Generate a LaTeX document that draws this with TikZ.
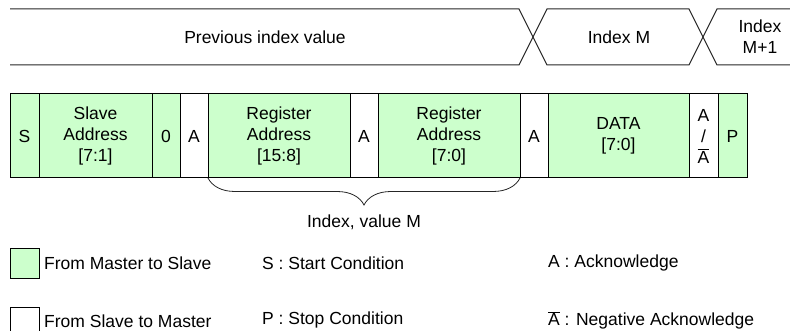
\documentclass[tikz,border=0pt]{standalone}
\usepackage{fontspec}
\setmainfont{Liberation Sans}
\usetikzlibrary{positioning,decorations.pathreplacing}
\definecolor{masterGreen}{HTML}{CCFFCC}
\newcommand{\nack}{$\overline{\hbox{A}}$}

\tikzset{
  txt/.style={font=\fontsize{17.5}{21}\selectfont},
  cell/.style={txt, draw=black, line width=1pt, minimum height=84pt,
    inner sep=0pt, outer sep=0pt, align=center},
  master/.style={cell, fill=masterGreen},
  slave/.style={cell, fill=white},
  bus/.style={draw=black!85, line width=1pt},
  lbl/.style={txt, inner sep=0pt, align=center},
}

\begin{document}
\begin{tikzpicture}[x=1pt, y=-1pt]
  \useasboundingbox (0,0) rectangle (790,331);

  % index value bus
  \draw[bus] (10,9) -- (519,9) -- (547,65) -- (689,65) -- (717,9) -- (790,9);
  \draw[bus] (10,65) -- (519,65) -- (547,9) -- (689,9) -- (717,65) -- (790,65);
  \node[lbl] (prevIdx) at (265,37) {Previous index value};
  \node[lbl] (idxM) at (619,37) {Index M};
  \node[lbl] (idxNext) at (760,37) {Index\\M+1};

  % frame
  \node[master, minimum width=29pt, anchor=north west] (s) at (10,94) {S};
  \node[master, minimum width=113pt, right=0pt of s] (slaveAddr) {Slave\\Address\\{[7:1]}};
  \node[master, minimum width=28pt, right=0pt of slaveAddr] (rw) {0};
  \node[slave, minimum width=28pt, right=0pt of rw] (ackA) {A};
  \node[master, minimum width=142pt, right=0pt of ackA] (regHi) {Register\\Address\\{[15:8]}};
  \node[slave, minimum width=28pt, right=0pt of regHi] (ackB) {A};
  \node[master, minimum width=142pt, right=0pt of ackB] (regLo) {Register\\Address\\{[7:0]}};
  \node[slave, minimum width=28pt, right=0pt of regLo] (ackC) {A};
  \node[master, minimum width=141pt, right=0pt of ackC] (data) {DATA\\{[7:0]}};
  \node[slave, minimum width=29pt, right=0pt of data] (ackD) {A\\/\\\nack};
  \node[master, minimum width=29pt, right=0pt of ackD] (p) {P};

  \draw[draw=black!85, line width=0.8pt, decorate,
    decoration={brace, mirror, amplitude=27pt}]
    (regHi.south west) -- (regLo.south east);
  \node[lbl] (idxVal) at (364,222) {Index, value M};

  % legend
  \node[master, minimum width=29pt, minimum height=29pt, anchor=north west] (keyMaster) at (10,249) {};
  \node[slave, minimum width=29pt, minimum height=29pt, anchor=north west] (keySlave) at (10,307) {};
  \node[lbl, right=5pt of keyMaster] (keyMasterTxt) {From Master to Slave};
  \node[lbl, right=5pt of keySlave] (keySlaveTxt) {From Slave to Master};
  \node[lbl, anchor=west] (startTxt) at (262,263) {S : Start Condition};
  \node[lbl, anchor=west] (stopTxt) at (262,320) {P : Stop Condition};
  \node[lbl, anchor=west] (ackTxt) at (548,263) {A : Acknowledge};
  \node[lbl, anchor=west] (nackTxt) at (548,320) {\nack{} : Negative Acknowledge};
\end{tikzpicture}
\end{document}
